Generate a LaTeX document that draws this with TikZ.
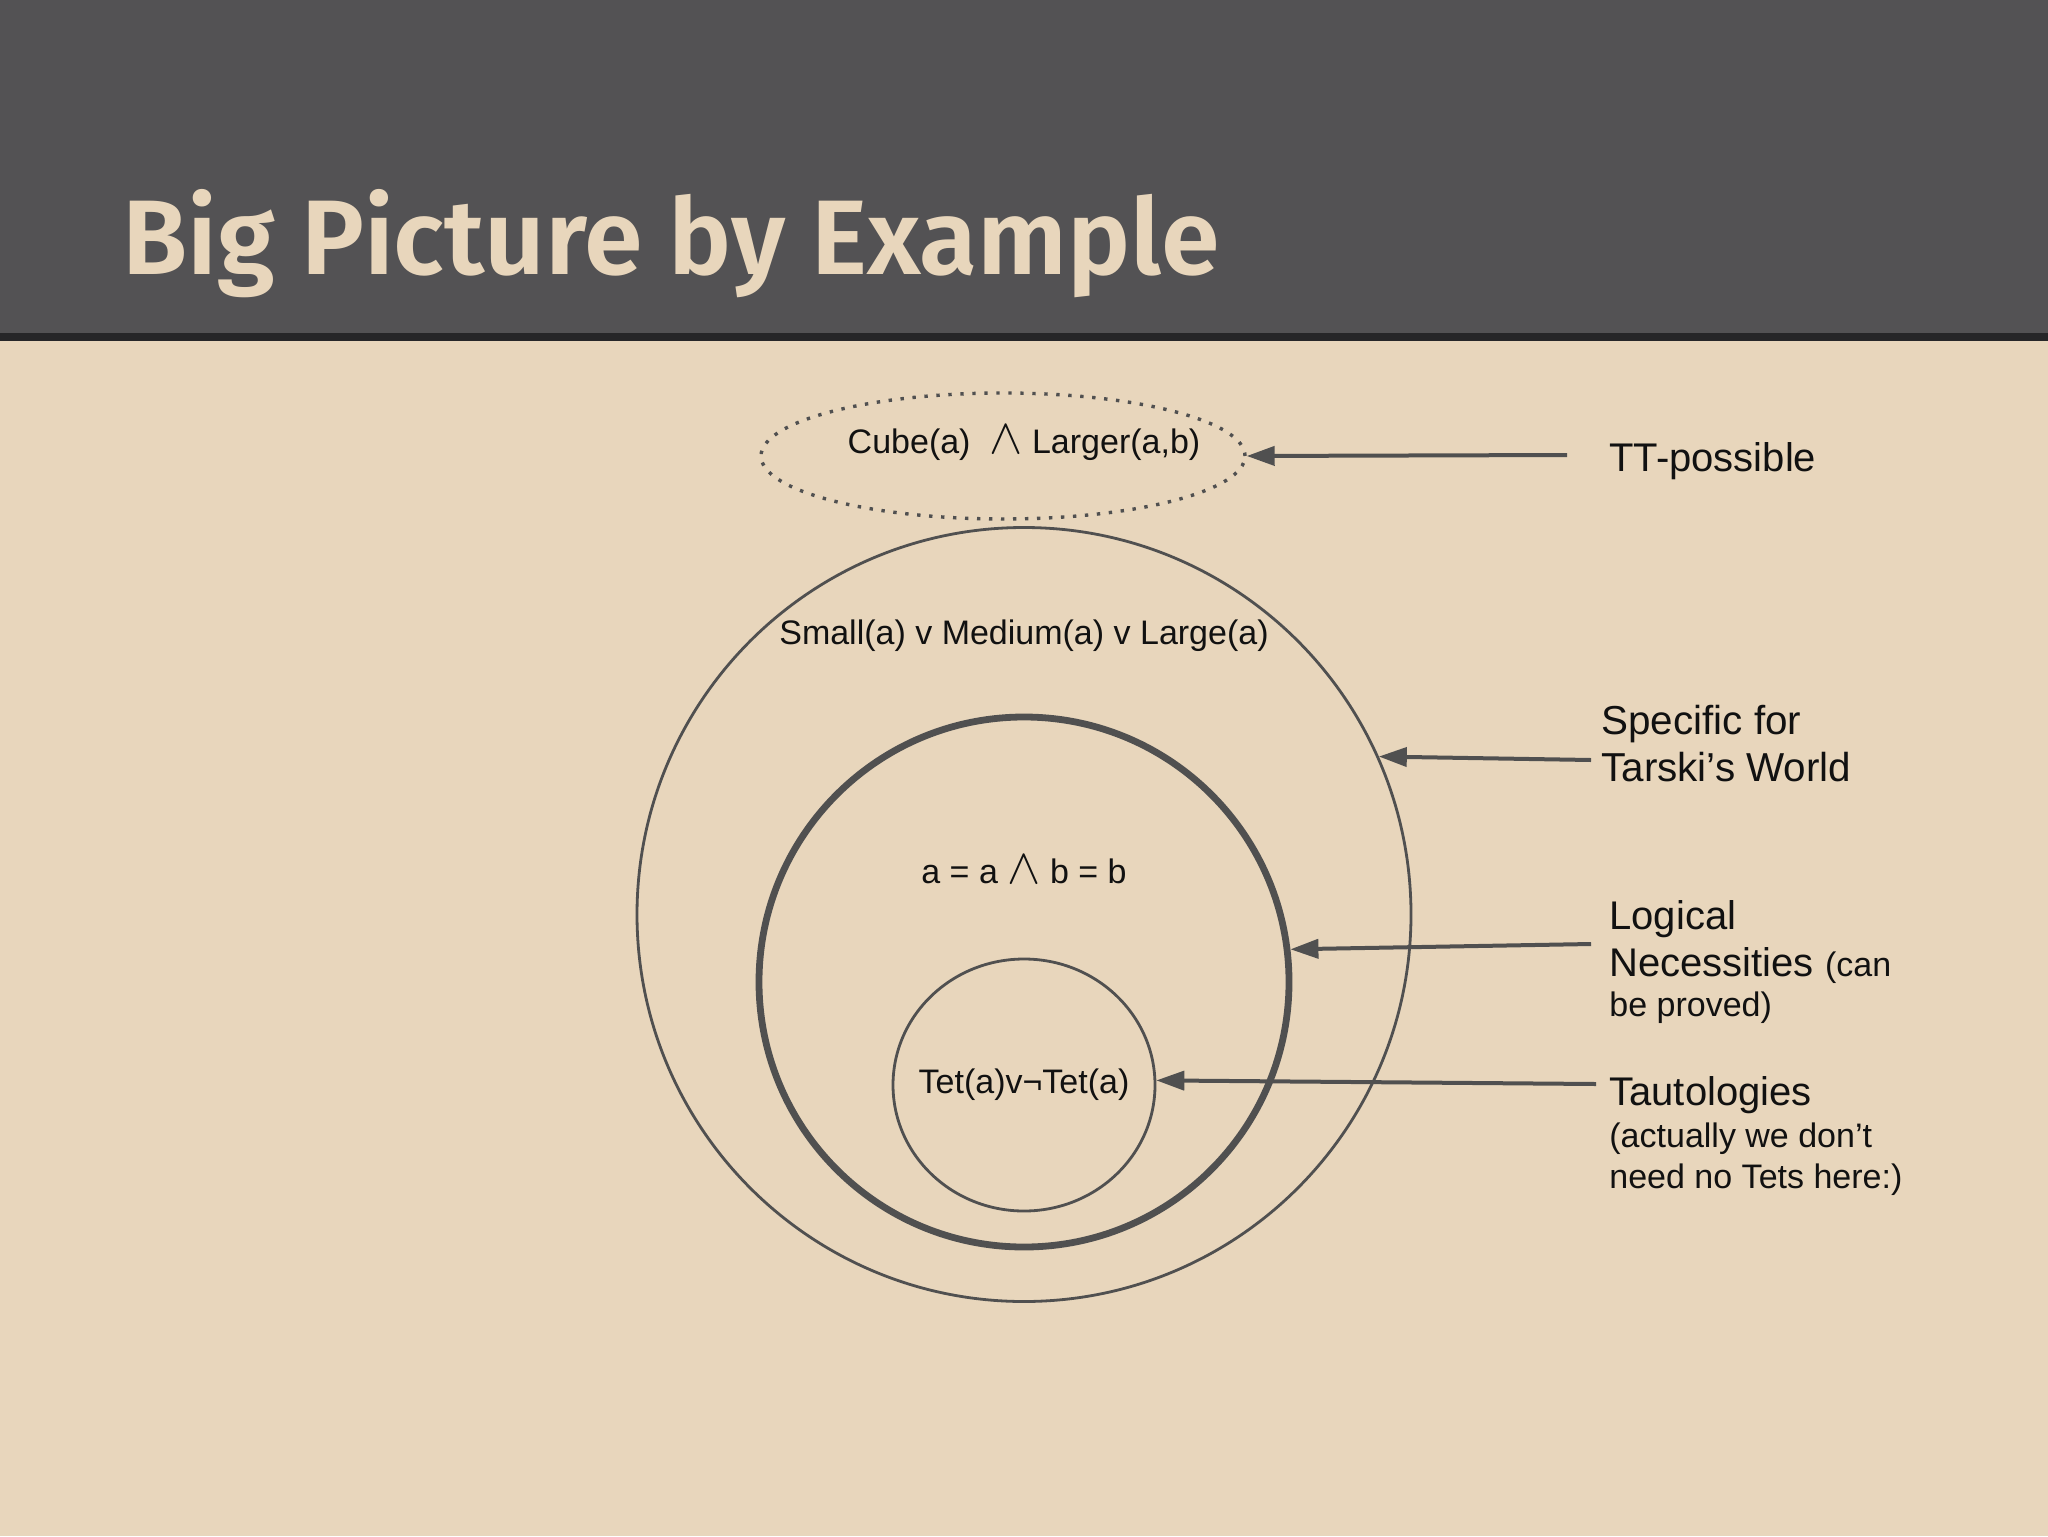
\documentclass[tikz,border=0pt]{standalone}
\usepackage{fontspec}
\setmainfont{Liberation Sans}
\newfontfamily\titlefont{Fira Sans SemiBold}
\usetikzlibrary{shapes.geometric,arrows.meta}
\definecolor{bg}{HTML}{E8D6BC}
\definecolor{hdr}{HTML}{535254}
\definecolor{hdrline}{HTML}{262628}
\definecolor{ttl}{HTML}{E8D6BC}
\definecolor{ln}{HTML}{505050}
\definecolor{txt}{HTML}{111111}
\newcommand{\bigand}{{\fontsize{25}{25}\selectfont$\wedge$}}
\tikzset{
  ring/.style={circle,draw=ln,line width=1.4pt,inner sep=0pt},
  dotring/.style={ellipse,draw=ln,line width=1.7pt,dash pattern=on 1.7pt off 4.3pt,inner sep=0pt},
  lbl/.style={text=txt,inner sep=0pt,font=\fontsize{17}{20}\selectfont},
  side/.style={text=txt,inner sep=0pt,anchor=base west,align=left},
  conn/.style={draw=ln,line width=2pt,-{Triangle[length=14pt,width=9.5pt]}}
}
\begin{document}
\begin{tikzpicture}[x=0.5pt,y=-0.5pt]
\useasboundingbox (0,0) rectangle (2048,1536);
\fill[bg] (0,0) rectangle (2048,1536);
\fill[hdr] (0,0) rectangle (2048,333);
\fill[hdrline] (0,333) rectangle (2048,341);

\node[anchor=base west,text=ttl,inner sep=0pt,font=\titlefont\fontsize{53}{60}\selectfont] (title) at (122,274) {Big Picture by Example};

% shapes
\node[dotring,minimum width=242pt,minimum height=63pt] (tt) at (1003,456) {};
\node[ring,minimum size=387pt] (outer) at (1024,914.5) {};
\node[ring,line width=3.4pt,minimum size=265pt] (mid) at (1024,982) {};
\node[ring,ellipse,minimum width=131pt,minimum height=126pt] (inner) at (1024,1085) {};

% texts in shapes
\node[lbl] (t0) at (1024,443) {Cube(a)\ \ \bigand\ Larger(a,b)};
\node[lbl] (t1) at (1024,636) {Small(a) v Medium(a) v Large(a)};
\node[lbl] (t2) at (1024,870) {a = a \bigand\ b = b};
\node[lbl] (t3) at (1024,1085) {Tet(a)v¬Tet(a)};

% side labels (anchored at the baseline of the last line)
\node[side,font=\fontsize{20}{23.5}\selectfont] (l1) at (1609,471) {TT-possible};
\node[side,font=\fontsize{20.2}{23.5}\selectfont] (l2) at (1601,781) {Specific for\\Tarski’s World};
\node[side,font=\fontsize{20}{23.5}\selectfont] (l3) at (1609,1016) {Logical\\Necessities {\fontsize{17}{20}\selectfont(can}\\[-3.5pt]{\fontsize{17}{20}\selectfont be proved)}};
\node[side,font=\fontsize{20}{21}\selectfont] (l4) at (1609,1188) {Tautologies\\{\fontsize{17}{20}\selectfont(actually we don’t}\\[-0.5pt]{\fontsize{17}{20}\selectfont need no Tets here:)}};

% connectors
\coordinate (s1) at (1567,455);
\coordinate (s2) at (1591,760);
\coordinate (s3) at (1591,944);
\coordinate (s4) at (1596,1084);
\draw[conn] (s1) -- (tt.east);
\draw[conn] (s2) -- (outer.24);
\draw[conn] (s3) -- (mid.7);
\draw[conn] (s4) -- (inner.2);
\end{tikzpicture}
\end{document}
